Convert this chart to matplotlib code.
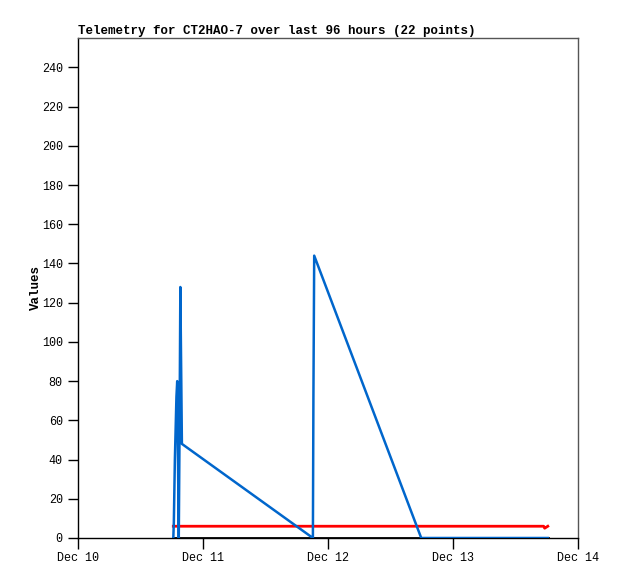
import matplotlib
matplotlib.use("Agg")
import matplotlib.pyplot as plt
import matplotlib.dates as mdates
import numpy as np
from datetime import datetime, timedelta

base = datetime(2024, 12, 10)

# hours after Dec 10 00:00
blue_hours = [18.3, 18.4, 18.5, 18.6, 18.75, 18.9, 19.05, 19.35, 19.5, 19.65, 19.8, 19.95,
              45.1, 45.2, 45.35, 65.9, 70.0, 75.0, 80.0, 85.0, 88.0, 90.2]
blue_vals = [0, 8, 24, 40, 56, 72, 80, 0, 56, 128, 88, 48,
             0, 72, 144, 0, 0, 0, 0, 0, 0, 0]

red_hours = [18.3, 45.1, 65.9, 85.0, 89.4, 89.6, 89.9, 90.2]
red_vals = [6, 6, 6, 6, 6, 5, 5.5, 6]

black_hours = [18.3, 45.1, 65.9, 90.2]
black_vals = [0, 0, 0, 0]

title = "Telemetry for CT2HAO-7 over last 96 hours (22 points)"
ylabel = "Values"
xtick_labels = ["Dec 10", "Dec 11", "Dec 12", "Dec 13", "Dec 14"]
yticks = list(range(0, 241, 20))

def to_dt(hs):
    return [base + timedelta(hours=h) for h in hs]

mono = ["Liberation Mono", "DejaVu Sans Mono"]

fig = plt.figure(figsize=(6.18, 5.79), dpi=100)
ax = fig.add_axes([78/618, 41/579, 500/618, 500/579])

ax.plot(to_dt(black_hours), black_vals, color="black", lw=2.0, zorder=2)
ax.plot(to_dt(red_hours), red_vals, color="#ff0000", lw=2.0, zorder=3)
ax.plot(to_dt(blue_hours), blue_vals, color="#0066cc", lw=1.8, zorder=4)

ax.set_ylim(0, 255)
ax.set_xlim(base, base + timedelta(days=4))
ax.set_yticks(yticks)
ax.set_yticklabels([str(v) for v in yticks], family=mono, fontsize=8.5)
xt = [base + timedelta(days=i) for i in range(5)]
ax.set_xticks(xt)
ax.set_xticklabels(xtick_labels, family=mono, fontsize=8.5)
ax.tick_params(axis="y", direction="out", length=7, width=1, pad=4)
ax.tick_params(axis="x", direction="out", length=8, width=1, pad=2)
for s in ax.spines.values():
    s.set_linewidth(1)
ax.spines["top"].set_color("#555555")
ax.spines["right"].set_color("#555555")

ax.set_ylabel(ylabel, family=mono, fontsize=9, fontweight="bold", labelpad=0)
fig.text(78/618, 1 - 31/579, title, family=mono, fontsize=9, fontweight="bold",
         ha="left", va="center")

fig.savefig("out.png", dpi=100)
